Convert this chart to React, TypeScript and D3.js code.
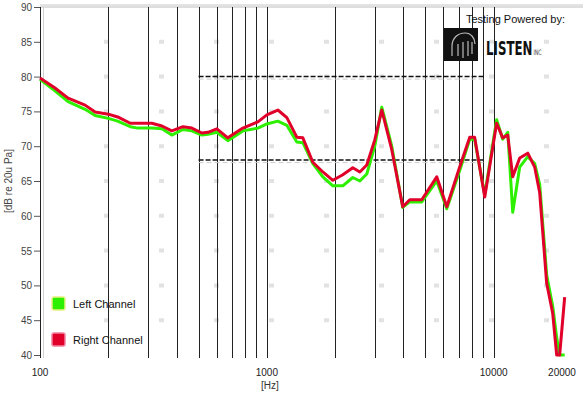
import React, { useEffect, useRef } from 'react';
import * as d3 from 'd3';

// frequency points (Hz)
const freqs = [
  100, 116, 133, 158, 175, 200, 220, 250, 270, 311, 345, 381, 427, 467, 517, 550,
  602, 673, 784, 913, 1000, 1118, 1225, 1355, 1441, 1595, 1765, 1954, 2162, 2392,
  2570, 2757, 2990, 3210, 3553, 3972, 4266, 4818, 5610, 6210, 7080, 7840, 8240,
  9130, 10300, 10960, 11530, 12130, 13020, 14130, 15160, 15950, 17120, 18200,
  18950, 19530, 20550,
];

const leftDb = [
  79.6, 78.0, 76.4, 75.3, 74.4, 74.0, 73.6, 72.8, 72.6, 72.6, 72.5, 71.6, 72.4, 72.2,
  71.6, 71.7, 72.0, 70.8, 72.2, 72.6, 73.2, 73.6, 73.0, 70.6, 70.5, 67.5, 65.6, 64.3,
  64.3, 65.5, 65.0, 66.0, 70.0, 75.6, 70.0, 61.2, 62.0, 62.0, 65.0, 61.0, 66.5, 71.0,
  71.0, 63.0, 73.8, 71.0, 72.0, 60.5, 67.0, 68.5, 67.5, 64.5, 51.5, 47.0, 42.5, 40.0,
  40.0,
];

const rightDb = [
  79.8, 78.4, 76.9, 75.9, 74.9, 74.6, 74.2, 73.3, 73.3, 73.3, 72.9, 72.2, 72.8, 72.6,
  71.9, 72.0, 72.5, 71.2, 72.6, 73.5, 74.5, 75.2, 74.1, 71.3, 71.2, 67.7, 66.3, 65.1,
  65.9, 66.9, 66.3, 67.3, 70.9, 75.2, 69.5, 61.3, 62.3, 62.3, 65.6, 61.3, 67.0, 71.3,
  71.3, 62.7, 73.3, 71.2, 71.6, 65.6, 68.3, 69.0, 67.0, 63.3, 50.3, 46.0, 40.0, 40.0,
  48.3,
];

const yTicks = [40, 45, 50, 55, 60, 65, 70, 75, 80, 85, 90];
const xLabels = [100, 1000, 10000, 20000];
const gridFreqs = [
  100, 200, 300, 400, 500, 600, 700, 800, 900, 1000, 2000, 3000, 4000, 5000, 6000,
  7000, 8000, 9000, 10000,
];
// target band: 500 Hz – 9 kHz, 68–80 dB
const bandFreqs = [500, 9000];
const bandLevels = [80, 68];

const seriesNames = ['Left Channel', 'Right Channel'];
const seriesColors = ['#2cf000', '#e0002a'];

export default function App() {
  const svgRef = useRef(null);

  useEffect(() => {
    const width = 583;
    const height = 395;
    const font = 'Liberation Sans, Arial, sans-serif';

    const svg = d3.select(svgRef.current);
    svg.selectAll('*').remove();

    const x = d3.scaleLog().domain([100, 20000]).range([40, 562]);
    const y = d3.scaleLinear().domain([40, 90]).range([355, 7]);

    svg.append('rect').attr('width', width).attr('height', height).attr('fill', '#fff');

    // faint horizontal grid
    svg.append('g')
      .selectAll('line')
      .data(yTicks.slice(1, -1))
      .join('line')
      .attr('x1', 104)
      .attr('x2', 568)
      .attr('y1', d => y(d))
      .attr('y2', d => y(d))
      .attr('stroke', '#e2e2e2')
      .attr('stroke-width', 4)
      .attr('stroke-dasharray', '5 50');

    // top border
    svg.append('line')
      .attr('x1', 40).attr('x2', 583)
      .attr('y1', 5).attr('y2', 5)
      .attr('stroke', '#c8c8c8');
    svg.append('line')
      .attr('x1', 40).attr('x2', 583)
      .attr('y1', 7).attr('y2', 7)
      .attr('stroke', '#bdbdbd');

    // vertical grid
    svg.append('g')
      .selectAll('line')
      .data(gridFreqs)
      .join('line')
      .attr('x1', d => Math.round(x(d)) + 0.5)
      .attr('x2', d => Math.round(x(d)) + 0.5)
      .attr('y1', 7)
      .attr('y2', 358)
      .attr('stroke', '#222')
      .attr('stroke-width', 1);

    // light echo line next to the y axis
    svg.append('line')
      .attr('x1', 43.5).attr('x2', 43.5)
      .attr('y1', 7).attr('y2', 358)
      .attr('stroke', '#d0d0d0');

    // y axis ticks + labels
    const yAxis = svg.append('g');
    yTicks.forEach(t => {
      yAxis.append('line')
        .attr('x1', 34).attr('x2', 40)
        .attr('y1', y(t) + 0.5).attr('y2', y(t) + 0.5)
        .attr('stroke', '#555');
      yAxis.append('text')
        .attr('x', 32)
        .attr('y', y(t) + 4)
        .attr('text-anchor', 'end')
        .attr('font-family', font)
        .attr('font-size', 10)
        .attr('fill', '#444')
        .text(t);
    });

    svg.append('text')
      .attr('transform', `translate(12,${y(65)}) rotate(-90)`)
      .attr('text-anchor', 'middle')
      .attr('font-family', font)
      .attr('font-size', 10)
      .attr('fill', '#444')
      .text('[dB re 20u Pa]');

    // x labels
    svg.append('g')
      .selectAll('text')
      .data(xLabels)
      .join('text')
      .attr('x', d => x(d))
      .attr('y', 376)
      .attr('text-anchor', 'middle')
      .attr('font-family', font)
      .attr('font-size', 10)
      .attr('fill', '#222')
      .text(d => d);

    svg.append('text')
      .attr('x', x(1000) + 3)
      .attr('y', 389)
      .attr('text-anchor', 'middle')
      .attr('font-family', font)
      .attr('font-size', 10)
      .attr('fill', '#333')
      .text('[Hz]');

    // target band dashed lines
    bandLevels.forEach(lv => {
      svg.append('line')
        .attr('x1', x(bandFreqs[0])).attr('x2', x(bandFreqs[1]))
        .attr('y1', y(lv) + 2.5).attr('y2', y(lv) + 2.5)
        .attr('stroke', '#ccc')
        .attr('stroke-dasharray', '5 3');
      svg.append('line')
        .attr('x1', x(bandFreqs[0])).attr('x2', x(bandFreqs[1]))
        .attr('y1', y(lv)).attr('y2', y(lv))
        .attr('stroke', '#111')
        .attr('stroke-width', 1.5)
        .attr('stroke-dasharray', '5 2');
    });

    // response curves
    const line = d3.line()
      .x(d => x(d[0]))
      .y(d => y(d[1]));

    [leftDb, rightDb].forEach((vals, i) => {
      svg.append('path')
        .datum(freqs.map((f, k) => [f, vals[k]]))
        .attr('fill', 'none')
        .attr('stroke', seriesColors[i])
        .attr('stroke-width', 3)
        .attr('stroke-linejoin', 'round')
        .attr('d', line);
    });

    // legend
    const legendY = [304, 340];
    seriesNames.forEach((name, i) => {
      const g = svg.append('g');
      g.append('rect')
        .attr('x', 52).attr('y', legendY[i] - 7)
        .attr('width', 13).attr('height', 13)
        .attr('rx', 2)
        .attr('fill', seriesColors[i])
        .attr('stroke', i === 0 ? '#e8f080' : '#f080a0')
        .attr('stroke-width', 1.5);
      g.append('text')
        .attr('x', 73)
        .attr('y', legendY[i] + 4)
        .attr('font-family', font)
        .attr('font-size', 11)
        .attr('fill', '#111')
        .text(name);
    });

    // "Testing Powered by" logo
    svg.append('text')
      .attr('x', 565)
      .attr('y', 23)
      .attr('text-anchor', 'end')
      .attr('font-family', font)
      .attr('font-size', 11)
      .attr('fill', '#111')
      .text('Testing Powered by:');

    const logo = svg.append('g');
    logo.append('rect')
      .attr('x', 444).attr('y', 28)
      .attr('width', 34).attr('height', 33)
      .attr('fill', '#111');
    logo.append('path')
      .attr('d', 'M452,56 L452,46 C452,38 458,33 465,33 C471,33 475,38 475,44 M458,56 L458,44 M463,58 L463,42 M468,56 L468,41 M472,54 L472,42')
      .attr('fill', 'none')
      .attr('stroke', '#bbb')
      .attr('stroke-width', 1.2);
    const brand = logo.append('text')
      .attr('transform', 'translate(486,55) scale(1.05,1.5)')
      .attr('font-family', 'DejaVu Sans Condensed, Liberation Sans Narrow, sans-serif')
      .attr('font-weight', 'bold')
      .attr('font-size', 12.5)
      .attr('fill', '#111');
    brand.append('tspan').text('LISTEN');
    brand.append('tspan')
      .attr('dx', 1)
      .attr('font-size', 5)
      .attr('font-weight', 'normal')
      .attr('fill', '#444')
      .text('INC');
  }, []);

  return (
    <svg
      ref={svgRef}
      width={583}
      height={395}
      style={{ position: 'absolute', left: 0, top: 0 }}
    />
  );
}
